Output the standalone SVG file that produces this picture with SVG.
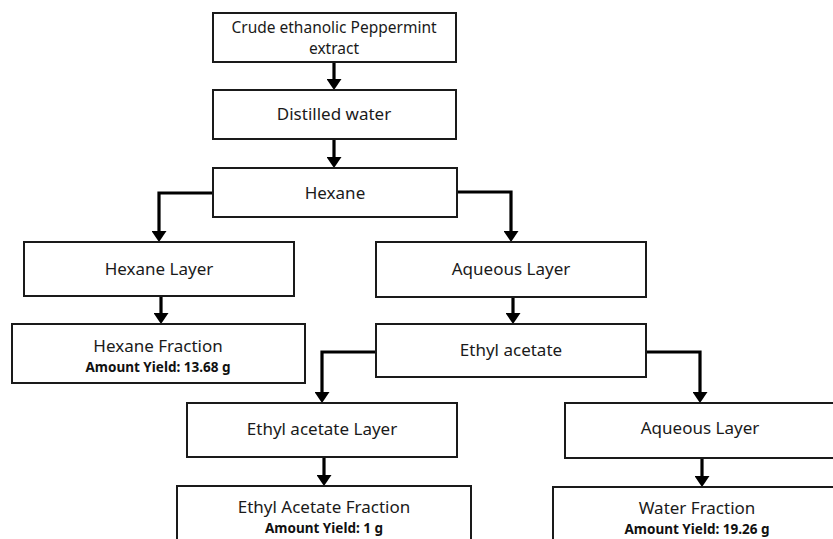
<svg xmlns="http://www.w3.org/2000/svg" width="833" height="539" viewBox="0 0 833 539">
<style>
.box{fill:#fff;stroke:#1a1a1a;stroke-width:2}
.t{font-family:"Noto Sans","Liberation Sans",sans-serif;font-size:17px;fill:#1a1a1a;text-anchor:middle}
.s{font-size:15.5px}
.b{font-family:"Noto Sans","Liberation Sans",sans-serif;font-size:13.5px;font-weight:bold;fill:#111;text-anchor:middle}
.c{fill:none;stroke:#000;stroke-width:3.2;marker-end:url(#ah)}
</style>
<defs>
<marker id="ah" markerUnits="userSpaceOnUse" viewBox="0 0 11 15" markerWidth="11" markerHeight="15" refX="6" refY="7.5" orient="auto">
<path d="M0,0 L11,7.5 L0,15 z" fill="#000"/>
</marker>
</defs>
<rect width="833" height="539" fill="#fff"/>
<g id="connectors">
<path class="c" d="M334,62 V85"/>
<path class="c" d="M334,139 V163"/>
<path class="c" d="M213,193 H159 V237"/>
<path class="c" d="M457,192 H511 V237"/>
<path class="c" d="M161,296 V319"/>
<path class="c" d="M513,297 V319"/>
<path class="c" d="M376,352 H322 V398"/>
<path class="c" d="M646,352 H700 V398"/>
<path class="c" d="M324,457 V481"/>
<path class="c" d="M702,458 V482"/>
</g>
<g id="crude"><rect class="box" x="213" y="13" width="243" height="49"/>
<text class="t s" x="334" y="33">Crude ethanolic Peppermint</text>
<text class="t s" x="334" y="54.4">extract</text></g>
<g id="water"><rect class="box" x="213" y="90" width="243" height="49"/>
<text class="t" x="334" y="120">Distilled water</text></g>
<g id="hexane"><rect class="box" x="213" y="168" width="244" height="49"/>
<text class="t" x="335" y="199">Hexane</text></g>
<g id="hexaneLayer"><rect class="box" x="24" y="242" width="270" height="54"/>
<text class="t" x="159" y="275">Hexane Layer</text></g>
<g id="aqueousLayer1"><rect class="box" x="376" y="242" width="270" height="55"/>
<text class="t" x="511" y="275">Aqueous Layer</text></g>
<g id="hexaneFraction"><rect class="box" x="12" y="324" width="293" height="59"/>
<text class="t" x="158" y="352">Hexane Fraction</text>
<text class="b" x="158" y="372">Amount Yield: 13.68 g</text></g>
<g id="ethylAcetate"><rect class="box" x="376" y="324" width="270" height="53"/>
<text class="t" x="511" y="356">Ethyl acetate</text></g>
<g id="ethylLayer"><rect class="box" x="187" y="403" width="270" height="54"/>
<text class="t" x="322" y="435">Ethyl acetate Layer</text></g>
<g id="aqueousLayer2"><rect class="box" x="565" y="403" width="280" height="55"/>
<text class="t" x="700" y="434">Aqueous Layer</text></g>
<g id="ethylFraction"><rect class="box" x="177" y="486" width="294" height="70"/>
<text class="t" x="324" y="513">Ethyl Acetate Fraction</text>
<text class="b" x="324" y="533">Amount Yield: 1 g</text></g>
<g id="waterFraction"><rect class="box" x="553" y="487" width="300" height="70"/>
<text class="t" x="697" y="514">Water Fraction</text>
<text class="b" x="697" y="534">Amount Yield: 19.26 g</text></g>
</svg>
